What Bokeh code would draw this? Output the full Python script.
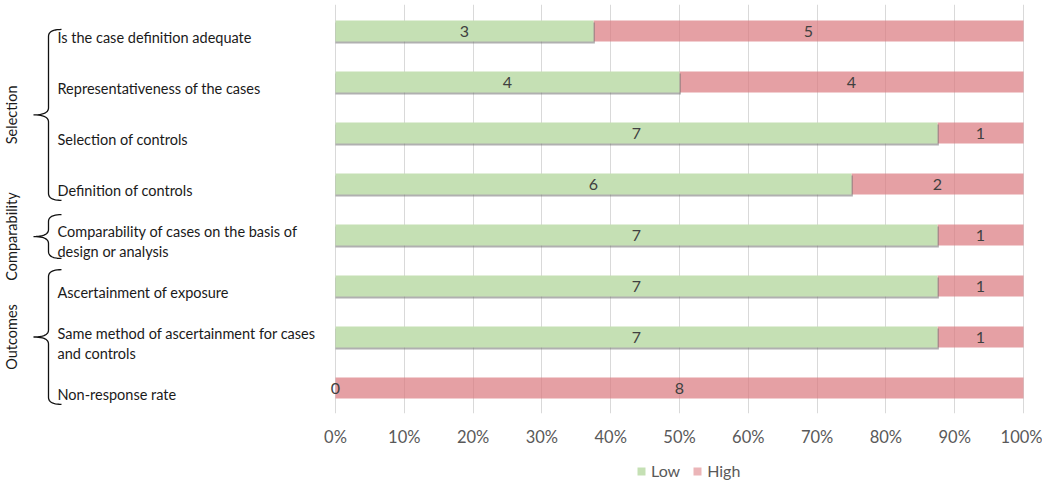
import numpy as np
from bokeh.plotting import figure
from bokeh.layouts import column
from bokeh.models import Range1d, FixedTicker, NumeralTickFormatter, ColumnDataSource, Legend, LegendItem
from bokeh.embed import file_html
from bokeh.resources import INLINE
from bokeh.core.properties import value

categories = [
    "Is the case definition adequate",
    "Representativeness of the cases",
    "Selection of controls",
    "Definition of controls",
    "Comparability of cases on the basis of\ndesign or analysis",
    "Ascertainment of exposure",
    "Same method of ascertainment for cases\nand controls",
    "Non-response rate",
]
low = [3, 4, 7, 6, 7, 7, 7, 0]
high = [5, 4, 1, 2, 1, 1, 1, 8]
series = ["Low", "High"]
groups = ["Selection", "Comparability", "Outcomes"]
group_spans = [(-0.03, 3.32), (3.6, 4.46), (4.68, 7.32)]
ticks = [0.0, 0.1, 0.2, 0.3, 0.4, 0.5, 0.6, 0.7, 0.8, 0.9, 1.0]

GREEN = "#c5e0b4"
RED = "#da787d"
FONT = "Lato"

PXX = 688.0   # pixels per x unit
PXY = 51.0    # pixels per row
X0PX = 335.0  # page x of 0%

def xd(px):
    return (px - X0PX) / PXX

n = len(categories)
rows = list(range(n))
tot = [l + h for l, h in zip(low, high)]
lowp = [l / t for l, t in zip(low, tot)]
highp = [h / t for h, t in zip(high, tot)]

src = ColumnDataSource(dict(
    y=rows, low=low, high=high, lowp=lowp, highp=highp,
    zero=[0] * n, one=[1.0] * n,
    lowmid=[p / 2 for p in lowp],
    highmid=[lp + hp / 2 for lp, hp in zip(lowp, highp)],
    lowtxt=[str(v) for v in low], hightxt=[str(v) for v in high],
    shadow_y=[r + 0.04 for r in rows],
    shadow_r=[p + 0.002 if p > 0 else 0 for p in lowp],
    cat=categories,
    cat_y=[r + 0.13 for r in rows],
))

FW, FH = 1030, 409
TOP = 4
p = figure(
    x_range=Range1d(xd(0), xd(0) + FW / PXX),
    y_range=Range1d(-(30.5 - TOP) / PXY + FH / PXY, -(30.5 - TOP) / PXY),
    frame_width=FW, frame_height=FH,
    output_backend="svg", toolbar_location=None,
    min_border_left=0, min_border_right=12, min_border_top=TOP, min_border_bottom=40,
)
p.outline_line_color = None
p.background_fill_color = "white"
p.border_fill_color = "white"
p.yaxis.visible = False
p.ygrid.grid_line_color = None
p.xgrid.ticker = FixedTicker(ticks=ticks)
p.xgrid.grid_line_color = "#d9d9d9"
p.xgrid.grid_line_width = 1
xa = p.xaxis[0]
xa.ticker = FixedTicker(ticks=ticks)
xa.formatter = NumeralTickFormatter(format="0%")
xa.axis_line_color = None
xa.major_tick_line_color = None
xa.major_tick_out = 0
xa.major_tick_in = 0
xa.minor_tick_line_color = None
xa.major_label_text_font = FONT
xa.major_label_text_font_size = "16.5px"
xa.major_label_text_color = "#595959"
xa.major_label_standoff = 13

BH = 21 / PXY
p.hbar(y="y", left="lowp", right="one", height=BH, source=src,
       fill_color=RED, fill_alpha=0.7, line_color=None)
p.hbar(y="shadow_y", left="zero", right="shadow_r", height=BH, source=src,
       fill_color="#6f6f6f", fill_alpha=0.55, line_color=None)
p.hbar(y="y", left="zero", right="lowp", height=BH, source=src,
       fill_color=GREEN, line_color=None)

p.text(x="lowmid", y="y", text="lowtxt", source=src, text_font=value(FONT),
       text_font_size="16px", text_color="#404040", text_align="center", text_baseline="middle")
p.text(x="highmid", y="y", text="hightxt", source=src, text_font=value(FONT),
       text_font_size="16px", text_color="#404040", text_align="center", text_baseline="middle")

# category labels
p.text(x=xd(57), y="cat_y", text="cat", source=src, text_font=value(FONT),
       text_font_size="14.5px", text_color="#1a1a1a", text_align="left", text_baseline="middle",
       text_line_height=1.2)

# braces
def bez(p0, c, p1, k=12):
    t = np.linspace(0, 1, k)
    x = (1 - t) ** 2 * p0[0] + 2 * (1 - t) * t * c[0] + t ** 2 * p1[0]
    y = (1 - t) ** 2 * p0[1] + 2 * (1 - t) * t * c[1] + t ** 2 * p1[1]
    return list(x), list(y)

xs_all, ys_all = [], []
xv, xt, xe = xd(48), xd(33), xd(61)
dy = 7 / PXY
for (top, bot) in group_spans:
    mid = (top + bot) / 2
    xs, ys = [], []
    for seg in [bez((xe, top), (xv, top), (xv, top + dy)),
                bez((xv, mid - dy), (xv, mid), (xt, mid)),
                bez((xt, mid), (xv, mid), (xv, mid + dy)),
                bez((xv, bot - dy), (xv, bot), (xe, bot))]:
        xs += seg[0]
        ys += seg[1]
    xs_all.append(xs)
    ys_all.append(ys)
p.multi_line(xs=xs_all, ys=ys_all, line_color="#111111", line_width=1.3)

p.text(x=[xd(11)] * len(groups), y=[(a + b) / 2 for a, b in group_spans], text=groups,
       angle=np.pi / 2, text_font=value(FONT), text_font_size="14.5px", text_color="#1a1a1a",
       text_align="center", text_baseline="middle")

# legend strip below the chart (swatch renderers sit outside its visible range)
q = figure(width=FW + 12, height=29, output_backend="svg", toolbar_location=None,
           min_border_left=0, min_border_right=0, min_border_top=0, min_border_bottom=0,
           x_range=Range1d(0, 1), y_range=Range1d(0, 1))
q.xaxis.visible = False
q.yaxis.visible = False
q.xgrid.visible = False
q.ygrid.visible = False
q.outline_line_color = None
q.background_fill_color = "white"
q.border_fill_color = "white"
swatch = ColumnDataSource(dict(y=[-50], l=[-50], r=[-49]))
g_low = q.hbar(y="y", left="l", right="r", height=1, source=swatch, fill_color=GREEN, line_color=None)
g_high = q.hbar(y="y", left="l", right="r", height=1, source=swatch, fill_color=RED,
                fill_alpha=0.55, line_color=None)
legend = Legend(items=[LegendItem(label=series[0], renderers=[g_low], index=0),
                       LegendItem(label=series[1], renderers=[g_high], index=0)],
                orientation="horizontal", location=(636, 2),
                glyph_width=10, glyph_height=10, label_text_font=FONT,
                label_text_font_size="16px", label_text_color="#595959",
                border_line_color=None, background_fill_alpha=0,
                padding=0, margin=0, spacing=12, label_standoff=5)
q.add_layout(legend)

open("out.html", "w").write(file_html(column(p, q, spacing=0), INLINE))
